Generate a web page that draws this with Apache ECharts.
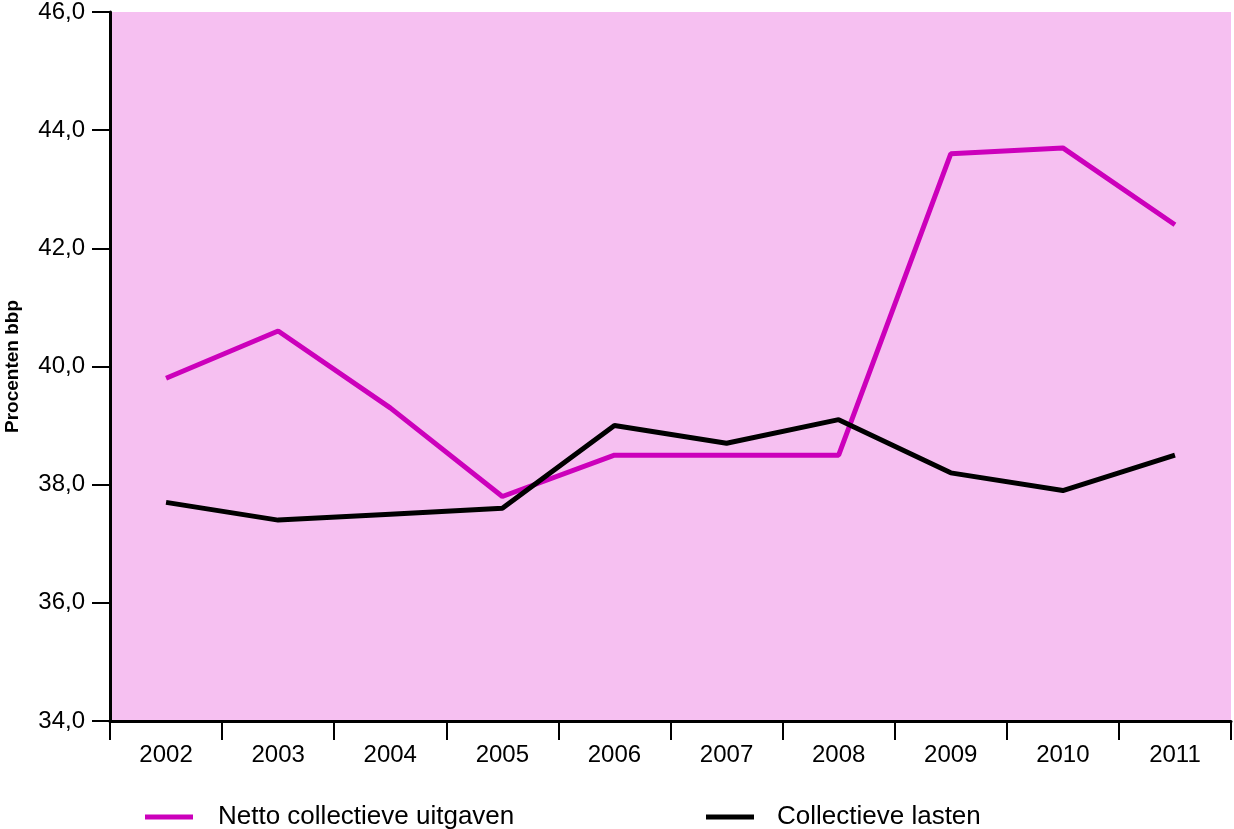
<!DOCTYPE html>
<html>
<head>
<meta charset="utf-8">
<script src="https://cdn.jsdelivr.net/npm/echarts@6/dist/echarts.min.js"></script>
<style>html,body{margin:0;padding:0;background:#fff;}#c{width:1234px;height:829px;}</style>
</head>
<body>
<div id="c"></div>
<script>
const years = ['2002','2003','2004','2005','2006','2007','2008','2009','2010','2011'];
const nettoUitgaven = [39.8, 40.6, 39.3, 37.8, 38.5, 38.5, 38.5, 43.6, 43.7, 42.4];
const collectieveLasten = [37.7, 37.4, 37.5, 37.6, 39.0, 38.7, 39.1, 38.2, 37.9, 38.5];
const seriesNames = ['Netto collectieve uitgaven', 'Collectieve lasten'];

const FONT = '"Liberation Sans", Arial, sans-serif';
const chart = echarts.init(document.getElementById('c'), null, {renderer: 'canvas'});
chart.setOption({
  animation: false,
  backgroundColor: '#ffffff',
  grid: {left: 110, right: 3, top: 12, bottom: 108, show: true, backgroundColor: '#F6C0F1', borderWidth: 0,
         containLabel: false, outerBoundsMode: 'none'},
  legend: [
    {data: [seriesNames[0]], left: 140, top: 799, itemWidth: 48, itemHeight: 5, icon: 'rect',
     textStyle: {fontFamily: FONT, fontSize: 26, color: '#000', padding: [0,0,0,20]}},
    {data: [seriesNames[1]], left: 701, top: 799, itemWidth: 48, itemHeight: 5, icon: 'rect',
     textStyle: {fontFamily: FONT, fontSize: 26, color: '#000', padding: [0,0,0,18]}}
  ],
  xAxis: {
    type: 'category', data: years, boundaryGap: true,
    axisLine: {lineStyle: {color: '#000', width: 3}},
    axisTick: {show: true, length: 19, lineStyle: {color: '#000', width: 2}},
    axisLabel: {fontFamily: FONT, fontSize: 24, color: '#000', margin: 22},
    splitLine: {show: false}
  },
  yAxis: {
    type: 'value', min: 34, max: 46, interval: 2,
    name: 'Procenten bbp', nameLocation: 'middle', nameRotate: 90, nameGap: 88,
    nameTextStyle: {fontFamily: FONT, fontSize: 19, fontWeight: 'bold', color: '#000'},
    axisLine: {show: true, lineStyle: {color: '#000', width: 3}},
    axisTick: {show: true, length: 18, lineStyle: {color: '#000', width: 2}},
    axisLabel: {fontFamily: FONT, fontSize: 24, color: '#000', margin: 25,
      formatter: v => v.toFixed(1).replace('.', ',')},
    splitLine: {show: false}
  },
  series: [
    {name: seriesNames[0], type: 'line', data: nettoUitgaven, symbol: 'none',
     lineStyle: {color: '#CC00BB', width: 5}, itemStyle: {color: '#CC00BB'}},
    {name: seriesNames[1], type: 'line', data: collectieveLasten, symbol: 'none',
     lineStyle: {color: '#000000', width: 5}, itemStyle: {color: '#000000'}}
  ]
});
</script>
</body>
</html>
